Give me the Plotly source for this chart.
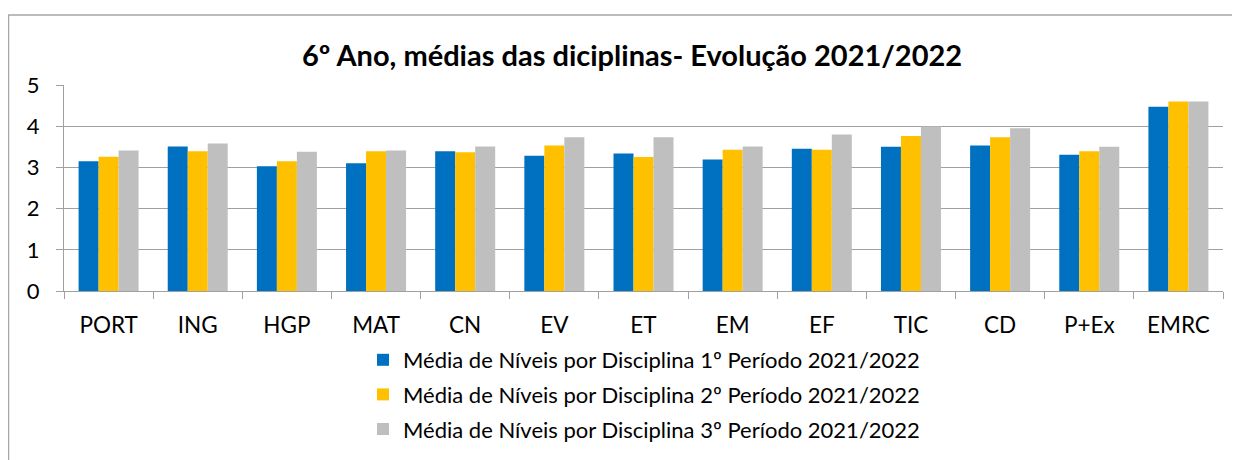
import plotly.graph_objects as go

categories = ["PORT", "ING", "HGP", "MAT", "CN", "EV", "ET", "EM", "EF", "TIC", "CD", "P+Ex", "EMRC"]
periodo1 = [3.15, 3.51, 3.03, 3.10, 3.39, 3.28, 3.34, 3.19, 3.45, 3.50, 3.53, 3.31, 4.47]
periodo2 = [3.26, 3.39, 3.15, 3.39, 3.37, 3.53, 3.25, 3.43, 3.43, 3.76, 3.73, 3.39, 4.60]
periodo3 = [3.41, 3.58, 3.38, 3.41, 3.51, 3.73, 3.73, 3.51, 3.80, 3.99, 3.95, 3.50, 4.60]
series_names = [
    "Média de Níveis por Disciplina 1º Período 2021/2022",
    "Média de Níveis por Disciplina 2º Período 2021/2022",
    "Média de Níveis por Disciplina 3º Período 2021/2022",
]
colors = ["#0070C0", "#FFC000", "#BFBFBF"]
title_text = "6º Ano, médias das diciplinas- Evolução 2021/2022"

FONT = "Lato, 'Open Sans', sans-serif"

fig = go.Figure()
for i, (name, vals) in enumerate(zip(series_names, [periodo1, periodo2, periodo3])):
    fig.add_trace(go.Bar(
        x=categories, y=vals, name=name,
        marker=dict(color=colors[i], line=dict(width=0)),
        legendgroup=f"g{i}",
    ))

# page body has an 8px margin: work in screen coordinates and subtract it
OFF = 8
W, H = 1240 - OFF, 460 - OFF
L, R, T, B = 64 - OFF, 17, 85 - OFF, 169
pw, ph = W - L - R, H - T - B
y_bottom = 291  # screen y of plot bottom


def py(screen_y):
    return (y_bottom - screen_y) / ph


def px(screen_x):
    return (screen_x - 64) / pw


fig.update_layout(
    width=W, height=H,
    margin=dict(l=L, r=R, t=T, b=B, pad=0, autoexpand=False),
    paper_bgcolor="white", plot_bgcolor="white",
    barmode="group", bargap=0.327, bargroupgap=0,
    font=dict(family=FONT, color="black"),
    title=dict(text=f"<b>{title_text}</b>", x=(632 - OFF) / W, xanchor="center",
               y=1 - (56 - OFF) / H, yanchor="middle",
               font=dict(family=FONT, size=29, color="black")),
    showlegend=True,
    legend=dict(
        orientation="v",
        x=px(363), xanchor="left",
        y=py(339), yanchor="top",
        font=dict(family=FONT, size=22, color="black"),
        tracegroupgap=3,
        itemwidth=30,
        bgcolor="rgba(0,0,0,0)",
    ),
    xaxis=dict(
        type="category",
        showgrid=False,
        showline=True, linecolor="#A0A0A0", linewidth=1.2,
        ticks="outside", tickson="boundaries", ticklen=7, tickcolor="#A0A0A0",
        tickfont=dict(family=FONT, size=22.5, color="black"),
        ticklabelstandoff=14,
    ),
    yaxis=dict(
        range=[0, 5], dtick=1,
        showgrid=True, gridcolor="#A0A0A0", gridwidth=1.3,
        zeroline=False,
        showline=True, linecolor="#A0A0A0", linewidth=1.2,
        ticks="outside", ticklen=7, tickcolor="#A0A0A0",
        tickfont=dict(family=FONT, size=22, color="black"),
        ticklabelstandoff=12,
    ),
    shapes=[dict(
        type="rect", xref="paper", yref="paper",
        x0=px(8.5), x1=px(1250),
        y0=py(475), y1=py(15),
        line=dict(color="#A6A6A6", width=1.5), fillcolor="rgba(0,0,0,0)",
        layer="below",
    )],
)

fig.write_html("out.html")
